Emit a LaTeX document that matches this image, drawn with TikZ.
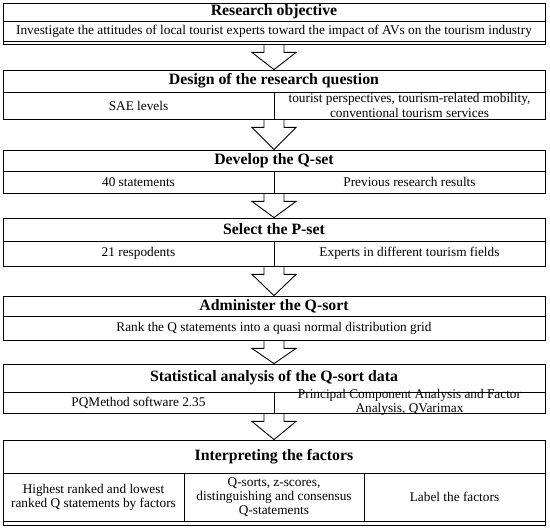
\documentclass[tikz,border=0pt]{standalone}
\usepackage{fontspec}
\setmainfont{Liberation Serif}
\usetikzlibrary{calc}
\newcommand{\hdfont}{\fontsize{15.8}{17}\selectfont\bfseries}
\newcommand{\bdfont}{\fontsize{13.3}{14.2}\selectfont}
\tikzset{stage/.style={draw, line width=0.9pt, inner sep=0pt}}
\tikzset{cell/.style={draw, line width=0.8pt, inner sep=0pt, align=center, font=\bdfont}}
\tikzset{head/.style={cell, font=\hdfont}}
\tikzset{txt/.style={inner sep=0pt, align=center, font=\bdfont}}
\tikzset{blockarrow/.style={draw, line width=0.9pt, to path={let \p1=(\tikztostart), \p2=(\tikztotarget) in
  (\x1-10pt,\y1) -- (\x1-10pt,\y1-8pt) -- (\x1-22pt,\y1-8pt) -- (\x2,\y2) -- (\x1+22pt,\y1-8pt) -- (\x1+10pt,\y1-8pt) -- (\x1+10pt,\y1)}}}

\begin{document}
\begin{tikzpicture}[x=1pt,y=-1pt]
	\useasboundingbox (0,0) rectangle (550,529);

	% research objective
	\node[stage, minimum width=542, minimum height=41] (obj) at (274,23.5) {};
	\node[head, minimum width=542, minimum height=18] (objT) at (274,12) {Research objective};
	\node[cell, minimum width=542, minimum height=20] (objS) at (274,31) {Investigate the attitudes of local tourist experts toward the impact of AVs on the tourism industry};

	% research question
	\node[stage, minimum width=542, minimum height=49] (des) at (274,94.5) {};
	\node[head, minimum width=542, minimum height=22] (desT) at (274,81) {Design of the research question};
	\node[cell, minimum width=271, minimum height=27] (desL) at (138.5,105.5) {SAE levels};
	\node[cell, minimum width=271, minimum height=27] (desR) at (409.5,105.5) {};
	\node[txt] (desRt) at (desR) {tourist perspectives, tourism-related mobility,\\conventional tourism services};

	% Q-set
	\node[stage, minimum width=542, minimum height=43] (qset) at (274,171.5) {};
	\node[head, minimum width=542, minimum height=21] (qsetT) at (274,160.5) {Develop the Q-set};
	\node[cell, minimum width=271, minimum height=22] (qsetL) at (138.5,182) {40 statements};
	\node[cell, minimum width=271, minimum height=22] (qsetR) at (409.5,182) {Previous research results};

	% P-set
	\node[stage, minimum width=542, minimum height=48] (pset) at (274,242) {};
	\node[head, minimum width=542, minimum height=23] (psetT) at (274,229.5) {Select the P-set};
	\node[cell, minimum width=271, minimum height=25] (psetL) at (138.5,253.5) {21 respodents};
	\node[cell, minimum width=271, minimum height=25] (psetR) at (409.5,253.5) {Experts in different tourism fields};

	% Q-sort
	\node[stage, minimum width=542, minimum height=44] (qsort) at (274,318) {};
	\node[head, minimum width=542, minimum height=20] (qsortT) at (274,306) {Administer the Q-sort};
	\node[cell, minimum width=542, minimum height=24] (qsortS) at (274,328) {Rank the Q statements into a quasi normal distribution grid};

	% analysis
	\node[stage, minimum width=542, minimum height=49] (stat) at (274,388.5) {};
	\node[head, minimum width=542, minimum height=28] (statT) at (274,378) {Statistical analysis of the Q-sort data};
	\node[cell, minimum width=271, minimum height=21] (statL) at (138.5,402.5) {PQMethod software 2.35};
	\node[cell, minimum width=271, minimum height=21] (statR) at (409.5,402.5) {};
	\node[txt] (statRt) at (statR) {Principal Component Analysis and Factor\\Analysis, QVarimax};

	% factors
	\node[stage, minimum width=542, minimum height=85] (intp) at (274,482.5) {};
	\node[head, minimum width=542, minimum height=33] (intpT) at (274,456.5) {Interpreting the factors};
	\node[cell, minimum width=181, minimum height=48] (intpL) at (93.5,497) {Highest ranked and lowest\\ranked Q statements by factors};
	\node[cell, minimum width=180, minimum height=48] (intpM) at (274,497) {Q-sorts, z-scores,\\distinguishing and consensus\\Q-statements};
	\node[cell, minimum width=181, minimum height=48] (intpR) at (454.5,497) {Label the factors};

	\begin{scope}[blockarrow]
		\draw (obj.south) to (desT.north);
		\draw (des.south) to (qsetT.north);
		\draw (qset.south) to (psetT.north);
		\draw (pset.south) to (qsortT.north);
		\draw (qsort.south) to (statT.north);
		\draw (stat.south) to (intpT.north);
	\end{scope}
\end{tikzpicture}
\end{document}
